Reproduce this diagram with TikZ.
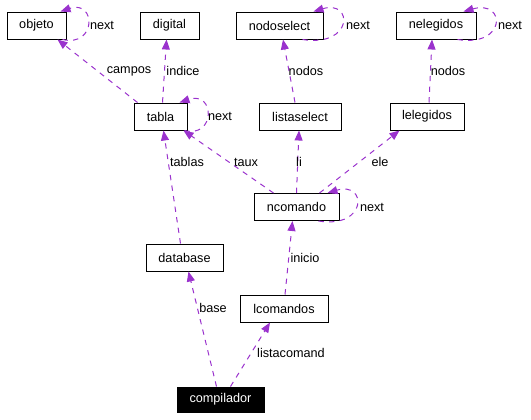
\documentclass[tikz,border=0pt]{standalone}
\usepackage{fontspec}
\setmainfont{Liberation Sans}
\usetikzlibrary{arrows.meta,calc}
\definecolor{orchid}{HTML}{9A32CD}

\tikzset{every picture/.style={line width=0.75pt}}
\tikzset{
  cls/.style={draw=black, line width=0.75pt, inner sep=0pt, minimum height=20.25pt, font=\fontsize{9.5}{11}\selectfont},
  use/.style={draw=orchid, line width=0.75pt, dash pattern=on 4pt off 4pt, -{Triangle[length=7.5pt,width=6pt]}, fill=none},
  lbl/.style={inner sep=0.75pt, font=\fontsize{9.5}{11}\selectfont}
}

\begin{document}
\begin{tikzpicture}[x=0.75pt,y=0.75pt,yscale=-1,xscale=1]
\useasboundingbox (0,0) rectangle (531,419);

% Classes
\node [cls, minimum width=44.25pt] (objeto) at (36.5,25.5) {objeto};
\node [cls, minimum width=44.25pt] (digital) at (169.5,25.5) {digital};
\node [cls, minimum width=65.25pt] (nodoselect) at (279.5,25.5) {nodoselect};
\node [cls, minimum width=60pt] (nelegidos) at (436,25.5) {nelegidos};
\node [cls, minimum width=39.75pt] (tabla) at (160.5,116.5) {tabla};
\node [cls, minimum width=61.5pt] (listaselect) at (300,116.5) {listaselect};
\node [cls, minimum width=55.5pt] (lelegidos) at (427,116.5) {lelegidos};
\node [cls, minimum width=63.75pt] (ncomando) at (296.5,207) {ncomando};
\node [cls, minimum width=57.75pt] (database) at (184.5,257.5) {database};
\node [cls, minimum width=66pt] (lcomandos) at (284,308.5) {lcomandos};
\node [cls, minimum width=65.25pt, minimum height=18.75pt, fill=black, text=white] (compilador) at (220.5,399.5) {compilador};

% Self loops
\draw [use] ($(objeto.south east)+(-4,0)$) .. controls ($(objeto.south east)+(30,8)$) and ($(objeto.north east)+(30,-12)$) .. ($(objeto.north east)+(-6,0)$);
\draw [use] ($(tabla.south east)+(-3,0)$) .. controls ($(tabla.south east)+(28,8)$) and ($(tabla.north east)+(28,-12)$) .. ($(tabla.north east)+(-8,0)$);
\draw [use] ($(nodoselect.south east)+(-21,0)$) .. controls ($(nodoselect.south east)+(30,8)$) and ($(nodoselect.north east)+(30,-12)$) .. ($(nodoselect.north east)+(-10,0)$);
\draw [use] ($(nelegidos.south east)+(-19,0)$) .. controls ($(nelegidos.south east)+(30,8)$) and ($(nelegidos.north east)+(30,-12)$) .. ($(nelegidos.north east)+(-13,0)$);
\draw [use] ($(ncomando.south east)+(-21,0)$) .. controls ($(ncomando.south east)+(28,8)$) and ($(ncomando.north east)+(28,-12)$) .. ($(ncomando.north east)+(-12,0)$);

% Usage edges
\draw [use] ($(tabla.north west)+(4,0)$) -- ($(objeto.south east)+(-9,0)$);
\draw [use] ($(tabla.north)+(2,0)$) -- ($(digital.south)+(-3,0)$);
\draw [use] ($(listaselect.north)+(-5,0)$) -- ($(nodoselect.south)+(3.5,0)$);
\draw [use] ($(lelegidos.north)+(2,0)$) -- ($(nelegidos.south)+(-4,0)$);
\draw [use] ($(database.north)+(-4,0)$) -- ($(tabla.south)+(3,0)$);
\draw [use] ($(ncomando.north west)+(20,0)$) -- ($(tabla.south east)+(-4,0)$);
\draw [use] (ncomando.north) -- ($(listaselect.south)+(-1,0)$);
\draw [use] ($(ncomando.north east)+(-20,0)$) -- ($(lelegidos.south west)+(10,0)$);
\draw [use] ($(lcomandos.north)+(1,0)$) -- ($(ncomando.south)+(-4,0)$);
\draw [use] ($(compilador.north)+(-4,0)$) -- ($(database.south)+(4,0)$);
\draw [use] ($(compilador.north)+(10,0)$) -- ($(lcomandos.south)+(-14,0)$);

% Labels
\node [lbl] (nxobjeto) at (102,25) {next};
\node [lbl] (lcampos) at (129,71) {campos};
\node [lbl] (lindice) at (183,71) {indice};
\node [lbl] (nxtabla) at (220,116) {next};
\node [lbl] (nxnodo) at (358,25) {next};
\node [lbl] (lnodosa) at (306,71) {nodos};
\node [lbl] (nxneleg) at (510,25) {next};
\node [lbl] (lnodosb) at (448,71) {nodos};
\node [lbl] (ltablas) at (187,162) {tablas};
\node [lbl] (ltaux) at (246,162) {taux};
\node [lbl] (lli) at (299,162) {li};
\node [lbl] (lele) at (380,162) {ele};
\node [lbl] (nxncom) at (372,207) {next};
\node [lbl] (linicio) at (305,258) {inicio};
\node [lbl] (lbase) at (213,308) {base};
\node [lbl] (llista) at (291,353) {listacomand};

\end{tikzpicture}
\end{document}
